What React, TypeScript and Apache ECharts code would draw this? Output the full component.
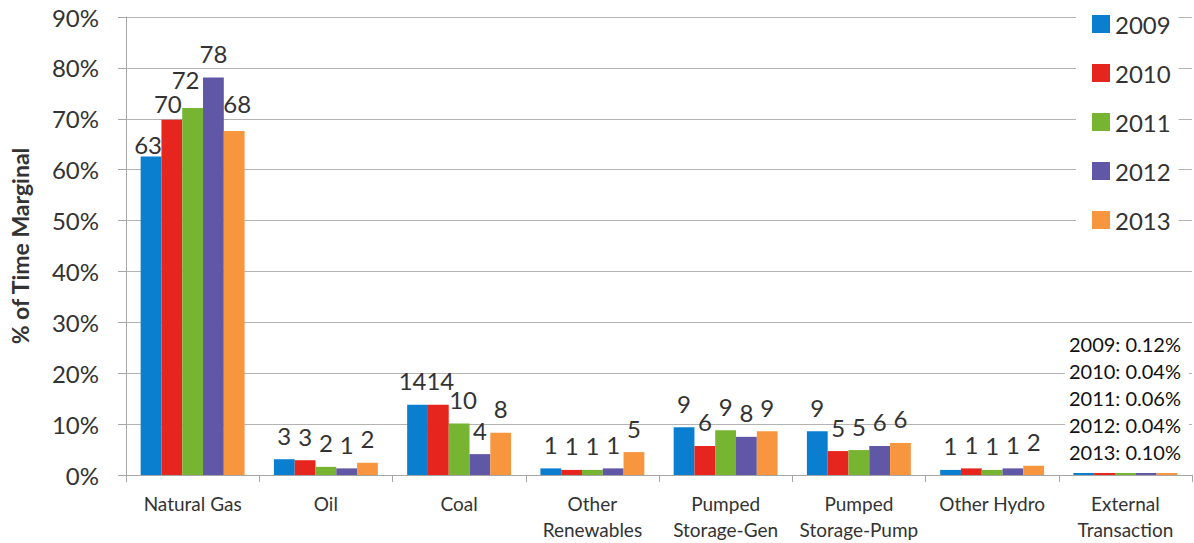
import React, { useEffect, useRef } from "react";
import * as echarts from "echarts";

const categories = [
  "Natural Gas",
  "Oil",
  "Coal",
  "Other\nRenewables",
  "Pumped\nStorage-Gen",
  "Pumped\nStorage-Pump",
  "Other Hydro",
  "External\nTransaction",
];
const years = ["2009", "2010", "2011", "2012", "2013"];
const colors = ["#0A7FCF", "#E5251E", "#76B432", "#6058A6", "#F7963F"];

const v2009 = [62.6, 3.1, 13.8, 1.3, 9.4, 8.6, 1.0, 0.12];
const v2010 = [69.8, 2.9, 13.8, 1.0, 5.7, 4.7, 1.3, 0.04];
const v2011 = [72.1, 1.6, 10.1, 1.0, 8.8, 4.9, 1.0, 0.06];
const v2012 = [78.1, 1.3, 4.1, 1.3, 7.5, 5.7, 1.3, 0.04];
const v2013 = [67.6, 2.4, 8.3, 4.5, 8.6, 6.3, 1.8, 0.1];
const seriesValues = [v2009, v2010, v2011, v2012, v2013];

const yTicks = [0, 10, 20, 30, 40, 50, 60, 70, 80, 90];
const noteLines = [
  "2009: 0.12%",
  "2010: 0.04%",
  "2011: 0.06%",
  "2012: 0.04%",
  "2013: 0.10%",
];

// label placement tweaks (styling only), keyed "seriesIndex-categoryIndex"
const labelTweaks: Record<string, { distance?: number; offset?: number[] }> = {
  "0-0": { distance: 0, offset: [-3, 0] },
  "1-0": { distance: 4, offset: [-4, 0] },
  "2-0": { distance: 17, offset: [-7, 0] },
  "4-0": { distance: 15, offset: [3, 0] },
  "0-2": { offset: [-5, 0] },
  "1-2": { offset: [2, 0] },
  "2-2": { offset: [4, 0] },
};

const FONT = "Lato, 'Open Sans', sans-serif";

export default function App() {
  const ref = useRef<HTMLDivElement>(null);
  useEffect(() => {
    if (!ref.current) return;
    const chart = echarts.init(ref.current, null, { renderer: "svg" });
    const series = years.map((y, si) => ({
      name: y,
      type: "bar",
      barGap: "0%",
      barCategoryGap: "22%",
      barMinHeight: 2,
      itemStyle: { color: colors[si] },
      data: seriesValues[si].map((v, ci) => ({
        value: v,
        label: { show: ci !== categories.length - 1, ...(labelTweaks[`${si}-${ci}`] || {}) },
      })),
      label: {
        show: true,
        position: "top",
        distance: 12,
        fontSize: 24,
        fontFamily: FONT,
        color: "#333",
        formatter: (p: any) => String(Math.round(p.value)),
      },
    }));
    chart.setOption({
      animation: false,
      textStyle: { fontFamily: FONT },
      grid: { left: 117, right: 2, top: 17, bottom: 68, containLabel: false },
      legend: {
        orient: "vertical",
        left: 1076,
        top: 0,
        padding: [12, 8, 14, 16],
        backgroundColor: "#fff",
        itemWidth: 18,
        itemHeight: 18,
        itemGap: 25,
        icon: "rect",
        data: years,
        textStyle: { fontSize: 24, color: "#333", fontFamily: FONT, lineHeight: 24 },
      },
      xAxis: {
        type: "category",
        data: categories,
        axisLine: { show: true, lineStyle: { color: "#a6a6a6" } },
        axisTick: { show: true, length: 7, lineStyle: { color: "#a6a6a6" } },
        axisLabel: {
          interval: 0,
          fontSize: 19,
          lineHeight: 26,
          margin: 15,
          color: "#333",
          fontFamily: FONT,
        },
      },
      yAxis: {
        type: "value",
        min: yTicks[0],
        max: yTicks[yTicks.length - 1],
        interval: 10,
        name: "% of Time Marginal",
        nameLocation: "middle",
        nameGap: 95,
        nameTextStyle: { fontSize: 23, fontWeight: "bold", color: "#333", fontFamily: FONT },
        axisLine: { show: true, lineStyle: { color: "#a6a6a6" } },
        axisTick: { show: true, length: 8, lineStyle: { color: "#a6a6a6" } },
        axisLabel: {
          fontSize: 24,
          margin: 27,
          color: "#333",
          fontFamily: FONT,
          formatter: "{value}%",
        },
        splitLine: { show: true, lineStyle: { color: "#b3b3b3" } },
      },
      graphic: [
        {
          type: "rect",
          left: 1065,
          top: 330,
          shape: { width: 124, height: 136 },
          style: { fill: "#fff" },
          z: 100,
        },
        {
          type: "text",
          right: 13,
          top: 330,
          z: 101,
          style: {
            text: noteLines.join("\n"),
            fontSize: 20,
            lineHeight: 27,
            fill: "#111",
            fontFamily: FONT,
            align: "right",
          },
        },
      ],
      series,
    });
    return () => chart.dispose();
  }, []);
  return <div ref={ref} style={{ width: 1194, height: 543, position: "absolute", left: 0, top: 0 }} />;
}
